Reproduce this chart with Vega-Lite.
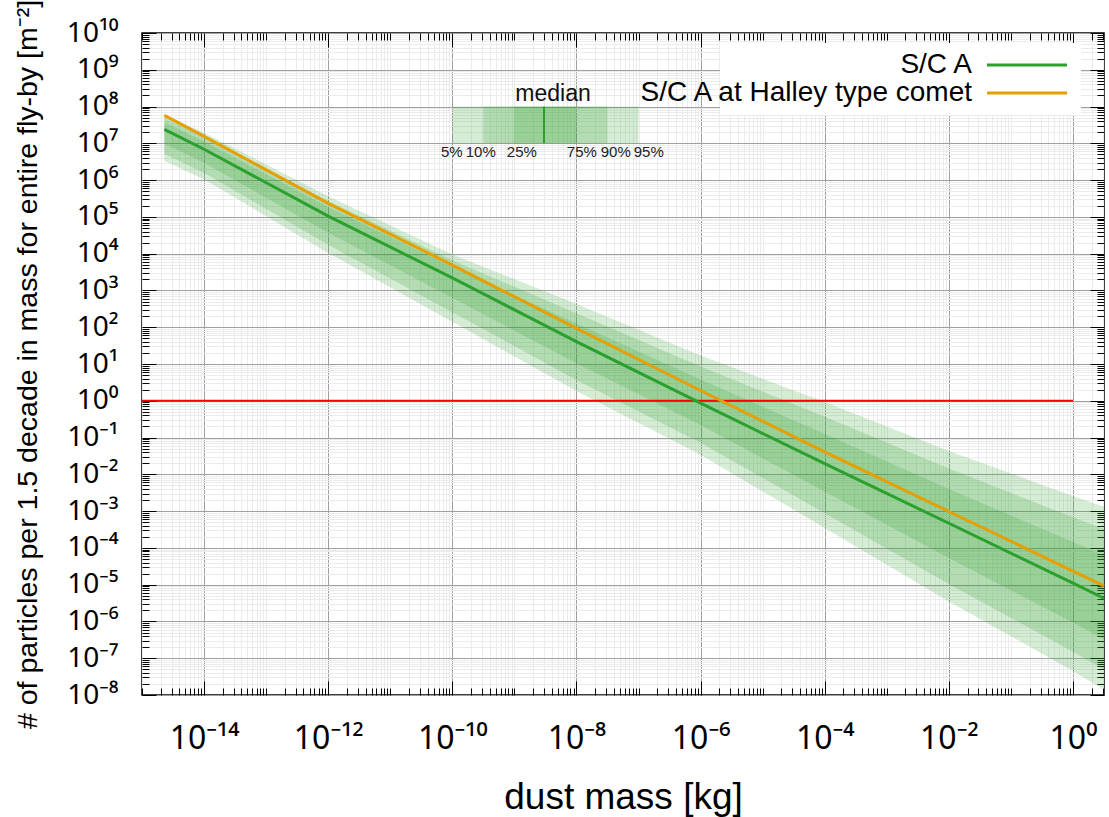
{
  "$schema": "https://vega.github.io/schema/vega-lite/v6.json",
  "width": 962,
  "height": 662,
  "autosize": {"type": "none"},
  "padding": {"left": 142, "top": 33, "right": 5, "bottom": 122},
  "background": "white",
  "datasets": {
    "bands": [
      {"band": "5-95", "mass": 2.29e-15, "lo": 3.31e6, "hi": 6.03e7},
      {"band": "5-95", "mass": 1e-14, "lo": 1.05e6, "hi": 1.95e7},
      {"band": "5-95", "mass": 1e-12, "lo": 1.05e4, "hi": 3.63e5},
      {"band": "5-95", "mass": 1e-10, "lo": 141, "hi": 9550},
      {"band": "5-95", "mass": 1e-8, "lo": 1.85, "hi": 430},
      {"band": "5-95", "mass": 1e-6, "lo": 0.034, "hi": 17.0},
      {"band": "5-95", "mass": 1e-4, "lo": 3.5e-4, "hi": 0.92},
      {"band": "5-95", "mass": 1e-2, "lo": 3.5e-6, "hi": 0.043},
      {"band": "5-95", "mass": 1, "lo": 4.47e-8, "hi": 2.57e-3},
      {"band": "5-95", "mass": 3.162, "lo": 1.38e-8, "hi": 1.32e-3},
      {"band": "10-90", "mass": 2.29e-15, "lo": 5.13e6, "hi": 4.79e7},
      {"band": "10-90", "mass": 1e-14, "lo": 1.585e6, "hi": 1.51e7},
      {"band": "10-90", "mass": 1e-12, "lo": 1.74e4, "hi": 2.69e5},
      {"band": "10-90", "mass": 1e-10, "lo": 257, "hi": 6610},
      {"band": "10-90", "mass": 1e-8, "lo": 3.7, "hi": 240},
      {"band": "10-90", "mass": 1e-6, "lo": 0.072, "hi": 8.5},
      {"band": "10-90", "mass": 1e-4, "lo": 8.8e-4, "hi": 0.37},
      {"band": "10-90", "mass": 1e-2, "lo": 1.04e-5, "hi": 0.0143},
      {"band": "10-90", "mass": 1, "lo": 1.51e-7, "hi": 6.76e-4},
      {"band": "10-90", "mass": 3.162, "lo": 4.90e-8, "hi": 3.24e-4},
      {"band": "25-75", "mass": 2.29e-15, "lo": 9.77e6, "hi": 3.72e7},
      {"band": "25-75", "mass": 1e-14, "lo": 2.95e6, "hi": 1.12e7},
      {"band": "25-75", "mass": 1e-12, "lo": 3.72e4, "hi": 1.86e5},
      {"band": "25-75", "mass": 1e-10, "lo": 631, "hi": 4370},
      {"band": "25-75", "mass": 1e-8, "lo": 10.5, "hi": 126},
      {"band": "25-75", "mass": 1e-6, "lo": 0.22, "hi": 3.8},
      {"band": "25-75", "mass": 1e-4, "lo": 3.4e-3, "hi": 0.125},
      {"band": "25-75", "mass": 1e-2, "lo": 5.3e-5, "hi": 4.0e-3},
      {"band": "25-75", "mass": 1, "lo": 9.33e-7, "hi": 1.45e-4},
      {"band": "25-75", "mass": 3.162, "lo": 3.24e-7, "hi": 6.31e-5}
    ],
    "curves": [
      {"series": "S/C A", "mass": 2.29e-15, "n": 2.40e7},
      {"series": "S/C A", "mass": 1e-14, "n": 6.92e6},
      {"series": "S/C A", "mass": 1e-12, "n": 1.05e5},
      {"series": "S/C A", "mass": 1e-10, "n": 2190},
      {"series": "S/C A", "mass": 1e-8, "n": 40.7},
      {"series": "S/C A", "mass": 1e-6, "n": 0.86},
      {"series": "S/C A", "mass": 1e-4, "n": 0.0195},
      {"series": "S/C A", "mass": 1e-2, "n": 4.68e-4},
      {"series": "S/C A", "mass": 1, "n": 1.10e-5},
      {"series": "S/C A", "mass": 3.162, "n": 4.27e-6},
      {"series": "S/C A at Halley type comet", "mass": 2.29e-15, "n": 5.75e7},
      {"series": "S/C A at Halley type comet", "mass": 1e-14, "n": 1.55e7},
      {"series": "S/C A at Halley type comet", "mass": 1e-12, "n": 2.34e5},
      {"series": "S/C A at Halley type comet", "mass": 1e-10, "n": 4900},
      {"series": "S/C A at Halley type comet", "mass": 1e-8, "n": 93.3},
      {"series": "S/C A at Halley type comet", "mass": 1e-6, "n": 1.9},
      {"series": "S/C A at Halley type comet", "mass": 1e-4, "n": 0.0407},
      {"series": "S/C A at Halley type comet", "mass": 1e-2, "n": 9.77e-4},
      {"series": "S/C A at Halley type comet", "mass": 1, "n": 2.34e-5},
      {"series": "S/C A at Halley type comet", "mass": 3.162, "n": 9.33e-6}
    ],
    "key": [
      {"band": "5-95", "lo": 1e-10, "hi": 1e-7},
      {"band": "10-90", "lo": 3.16e-10, "hi": 3.16e-8},
      {"band": "25-75", "lo": 1e-9, "hi": 1e-8}
    ],
    "keylabels": [
      {"m": 9.8e-11, "label": "5%"},
      {"m": 2.87e-10, "label": "10%"},
      {"m": 1.32e-9, "label": "25%"},
      {"m": 1.22e-8, "label": "75%"},
      {"m": 4.3e-8, "label": "90%"},
      {"m": 1.46e-7, "label": "95%"}
    ]
  },
  "layer": [
    {
      "data": {"name": "bands"},
      "mark": {"type": "area", "color": "#2ca02c", "opacity": 0.2},
      "encoding": {
        "x": {
          "field": "mass", "type": "quantitative",
          "scale": {"type": "log", "domain": [1e-15, 3.162], "nice": false},
          "axis": {
            "orient": "bottom",
            "title": "dust mass [kg]",
            "titleFontSize": 37, "titleX": 481, "titleY": 113, "titleBaseline": "alphabetic", "titleAlign": "center",
            "values": [1e-15,2e-15,3e-15,4e-15,5e-15,6e-15,7e-15,8e-15,9e-15,1e-14,2e-14,3e-14,4e-14,5e-14,6e-14,7e-14,8e-14,9e-14,1e-13,2e-13,3e-13,4e-13,5e-13,6e-13,7e-13,8e-13,9e-13,1e-12,2e-12,3e-12,4e-12,5e-12,6e-12,7e-12,8e-12,9e-12,1e-11,2e-11,3e-11,4e-11,5e-11,6e-11,7e-11,8e-11,9e-11,1e-10,2e-10,3e-10,4e-10,5e-10,6e-10,7e-10,8e-10,9e-10,1e-9,2e-9,3e-9,4e-9,5e-9,6e-9,7e-9,8e-9,9e-9,1e-8,2e-8,3e-8,4e-8,5e-8,6e-8,7e-8,8e-8,9e-8,1e-7,2e-7,3e-7,4e-7,5e-7,6e-7,7e-7,8e-7,9e-7,1e-6,2e-6,3e-6,4e-6,5e-6,6e-6,7e-6,8e-6,9e-6,1e-5,2e-5,3e-5,4e-5,5e-5,6e-5,7e-5,8e-5,9e-5,1e-4,2e-4,3e-4,4e-4,5e-4,6e-4,7e-4,8e-4,9e-4,1e-3,2e-3,3e-3,4e-3,5e-3,6e-3,7e-3,8e-3,9e-3,0.01,0.02,0.03,0.04,0.05,0.06,0.07,0.08,0.09,0.1,0.2,0.3,0.4,0.5,0.6,0.7,0.8,0.9,1,2,3],
            "labelExpr": "(abs(log(datum.value)/LN10-round(log(datum.value)/LN10))<0.01&&round(log(datum.value)/LN10)%2==0)?'10'+replace(replace(replace(replace(replace(replace(replace(replace(replace(replace(replace(toString(round(log(datum.value)/LN10)),'-','⁻'),'0','⁰'),'1','¹'),'2','²'),'3','³'),'4','⁴'),'5','⁵'),'6','⁶'),'7','⁷'),'8','⁸'),'9','⁹'):''",
            "labelFont": "Noto Sans", "labelFontSize": 32, "labelBaseline": "alphabetic", "labelPadding": 67,
            "labelOverlap": false, "labelBound": false, "labelFlush": false,
            "grid": true,
            "gridColor": {"condition": {"test": "abs(log(datum.value)/LN10-round(log(datum.value)/LN10))<0.01&&round(log(datum.value)/LN10)%2==0", "value": "#a0a0a0"}, "value": "#ebebeb"},
            "tickSize": {"condition": {"test": "abs(log(datum.value)/LN10-round(log(datum.value)/LN10))<0.01&&round(log(datum.value)/LN10)%2==0", "value": -14}, "value": -7}
          }
        },
        "y": {
          "field": "hi", "type": "quantitative",
          "scale": {"type": "log", "domain": [1e-8, 1e10], "nice": false},
          "axis": {
            "orient": "left",
            "title": "# of particles per 1.5 decade in mass for entire fly-by [m⁻²]",
            "titleFontSize": 28.5, "titleX": -106, "titleY": 331, "titleBaseline": "alphabetic", "titleAlign": "center", "titleAngle": 270,
            "values": [1e-8,2e-8,3e-8,4e-8,5e-8,6e-8,7e-8,8e-8,9e-8,1e-7,2e-7,3e-7,4e-7,5e-7,6e-7,7e-7,8e-7,9e-7,1e-6,2e-6,3e-6,4e-6,5e-6,6e-6,7e-6,8e-6,9e-6,1e-5,2e-5,3e-5,4e-5,5e-5,6e-5,7e-5,8e-5,9e-5,1e-4,2e-4,3e-4,4e-4,5e-4,6e-4,7e-4,8e-4,9e-4,1e-3,2e-3,3e-3,4e-3,5e-3,6e-3,7e-3,8e-3,9e-3,0.01,0.02,0.03,0.04,0.05,0.06,0.07,0.08,0.09,0.1,0.2,0.3,0.4,0.5,0.6,0.7,0.8,0.9,1,2,3,4,5,6,7,8,9,10,20,30,40,50,60,70,80,90,100,200,300,400,500,600,700,800,900,1e3,2e3,3e3,4e3,5e3,6e3,7e3,8e3,9e3,1e4,2e4,3e4,4e4,5e4,6e4,7e4,8e4,9e4,1e5,2e5,3e5,4e5,5e5,6e5,7e5,8e5,9e5,1e6,2e6,3e6,4e6,5e6,6e6,7e6,8e6,9e6,1e7,2e7,3e7,4e7,5e7,6e7,7e7,8e7,9e7,1e8,2e8,3e8,4e8,5e8,6e8,7e8,8e8,9e8,1e9,2e9,3e9,4e9,5e9,6e9,7e9,8e9,9e9,1e10],
            "labelExpr": "(abs(log(datum.value)/LN10-round(log(datum.value)/LN10))<0.01)?'10'+replace(replace(replace(replace(replace(replace(replace(replace(replace(replace(replace(toString(round(log(datum.value)/LN10)),'-','⁻'),'0','⁰'),'1','¹'),'2','²'),'3','³'),'4','⁴'),'5','⁵'),'6','⁶'),'7','⁷'),'8','⁸'),'9','⁹'):''",
            "labelFont": "Noto Sans", "labelFontSize": 28, "labelAlign": "right", "labelBaseline": "middle", "labelPadding": 38,
            "labelOverlap": false, "labelBound": false, "labelFlush": false,
            "grid": true,
            "gridColor": {"condition": {"test": "abs(log(datum.value)/LN10-round(log(datum.value)/LN10))<0.01", "value": "#a0a0a0"}, "value": "#ebebeb"},
            "tickSize": {"condition": {"test": "abs(log(datum.value)/LN10-round(log(datum.value)/LN10))<0.01", "value": -14}, "value": -7}
          }
        },
        "y2": {"field": "lo"},
        "detail": {"field": "band"}
      }
    },
    {
      "data": {"values": [{"mass": 1e-15, "mass_end": 1, "n": 1}]},
      "mark": {"type": "rule", "color": "#ff0000", "strokeWidth": 2},
      "encoding": {
        "x": {
          "field": "mass", "type": "quantitative",
          "axis": {
            "orient": "top", "title": null, "labels": false, "grid": false,
            "values": [1e-15,2e-15,3e-15,4e-15,5e-15,6e-15,7e-15,8e-15,9e-15,1e-14,2e-14,3e-14,4e-14,5e-14,6e-14,7e-14,8e-14,9e-14,1e-13,2e-13,3e-13,4e-13,5e-13,6e-13,7e-13,8e-13,9e-13,1e-12,2e-12,3e-12,4e-12,5e-12,6e-12,7e-12,8e-12,9e-12,1e-11,2e-11,3e-11,4e-11,5e-11,6e-11,7e-11,8e-11,9e-11,1e-10,2e-10,3e-10,4e-10,5e-10,6e-10,7e-10,8e-10,9e-10,1e-9,2e-9,3e-9,4e-9,5e-9,6e-9,7e-9,8e-9,9e-9,1e-8,2e-8,3e-8,4e-8,5e-8,6e-8,7e-8,8e-8,9e-8,1e-7,2e-7,3e-7,4e-7,5e-7,6e-7,7e-7,8e-7,9e-7,1e-6,2e-6,3e-6,4e-6,5e-6,6e-6,7e-6,8e-6,9e-6,1e-5,2e-5,3e-5,4e-5,5e-5,6e-5,7e-5,8e-5,9e-5,1e-4,2e-4,3e-4,4e-4,5e-4,6e-4,7e-4,8e-4,9e-4,1e-3,2e-3,3e-3,4e-3,5e-3,6e-3,7e-3,8e-3,9e-3,0.01,0.02,0.03,0.04,0.05,0.06,0.07,0.08,0.09,0.1,0.2,0.3,0.4,0.5,0.6,0.7,0.8,0.9,1,2,3],
            "tickSize": {"condition": {"test": "abs(log(datum.value)/LN10-round(log(datum.value)/LN10))<0.01&&round(log(datum.value)/LN10)%2==0", "value": -14}, "value": -7}
          }
        },
        "x2": {"field": "mass_end"},
        "y": {
          "field": "n", "type": "quantitative",
          "axis": {
            "orient": "right", "title": null, "labels": false, "grid": false,
            "values": [1e-8,2e-8,3e-8,4e-8,5e-8,6e-8,7e-8,8e-8,9e-8,1e-7,2e-7,3e-7,4e-7,5e-7,6e-7,7e-7,8e-7,9e-7,1e-6,2e-6,3e-6,4e-6,5e-6,6e-6,7e-6,8e-6,9e-6,1e-5,2e-5,3e-5,4e-5,5e-5,6e-5,7e-5,8e-5,9e-5,1e-4,2e-4,3e-4,4e-4,5e-4,6e-4,7e-4,8e-4,9e-4,1e-3,2e-3,3e-3,4e-3,5e-3,6e-3,7e-3,8e-3,9e-3,0.01,0.02,0.03,0.04,0.05,0.06,0.07,0.08,0.09,0.1,0.2,0.3,0.4,0.5,0.6,0.7,0.8,0.9,1,2,3,4,5,6,7,8,9,10,20,30,40,50,60,70,80,90,100,200,300,400,500,600,700,800,900,1e3,2e3,3e3,4e3,5e3,6e3,7e3,8e3,9e3,1e4,2e4,3e4,4e4,5e4,6e4,7e4,8e4,9e4,1e5,2e5,3e5,4e5,5e5,6e5,7e5,8e5,9e5,1e6,2e6,3e6,4e6,5e6,6e6,7e6,8e6,9e6,1e7,2e7,3e7,4e7,5e7,6e7,7e7,8e7,9e7,1e8,2e8,3e8,4e8,5e8,6e8,7e8,8e8,9e8,1e9,2e9,3e9,4e9,5e9,6e9,7e9,8e9,9e9,1e10],
            "tickSize": {"condition": {"test": "abs(log(datum.value)/LN10-round(log(datum.value)/LN10))<0.01", "value": -14}, "value": -7}
          }
        }
      }
    },
    {
      "data": {"name": "curves"},
      "mark": {"type": "line", "strokeWidth": 3},
      "encoding": {
        "x": {"field": "mass", "type": "quantitative", "axis": null},
        "y": {"field": "n", "type": "quantitative", "axis": null},
        "color": {
          "field": "series", "type": "nominal",
          "scale": {"domain": ["S/C A", "S/C A at Halley type comet"], "range": ["#2ca02c", "#e69f00"]},
          "legend": {
            "title": null, "orient": "none", "legendX": 578, "legendY": 10,
            "fillColor": "white", "padding": 8, "rowPadding": 0,
            "labelFontSize": 28, "labelAlign": "right", "labelOffset": -69, "labelLimit": 0,
            "symbolType": "M-4,0H4", "symbolSize": 400, "symbolStrokeWidth": 3, "symbolOffset": 285
          }
        }
      }
    },
    {
      "data": {"name": "key"},
      "mark": {"type": "rect", "color": "#2ca02c", "opacity": 0.2},
      "encoding": {
        "x": {"field": "lo", "type": "quantitative", "axis": null},
        "x2": {"field": "hi"},
        "y": {"datum": 1e7, "type": "quantitative", "axis": null},
        "y2": {"datum": 1e8}
      }
    },
    {
      "data": {"values": [{"m": 3e-9}]},
      "mark": {"type": "rule", "color": "#2ca02c", "strokeWidth": 2},
      "encoding": {
        "x": {"field": "m", "type": "quantitative", "axis": null},
        "y": {"datum": 1e7, "type": "quantitative", "axis": null},
        "y2": {"datum": 1e8}
      }
    },
    {
      "data": {"values": [{"m": 4.2e-9, "label": "median"}]},
      "mark": {"type": "text", "baseline": "bottom", "dy": -1, "fontSize": 23, "color": "#111"},
      "encoding": {
        "x": {"field": "m", "type": "quantitative", "axis": null},
        "y": {"datum": 1e8, "type": "quantitative", "axis": null},
        "text": {"field": "label"}
      }
    },
    {
      "data": {"name": "keylabels"},
      "mark": {"type": "text", "baseline": "top", "dy": 2, "fontSize": 15, "color": "#222"},
      "encoding": {
        "x": {"field": "m", "type": "quantitative", "axis": null},
        "y": {"datum": 1e7, "type": "quantitative", "axis": null},
        "text": {"field": "label"}
      }
    }
  ],
  "resolve": {"axis": {"x": "independent", "y": "independent"}},
  "config": {
    "font": "Liberation Sans",
    "view": {"stroke": "black", "strokeWidth": 1.5},
    "axis": {
      "domain": false,
      "tickColor": "black",
      "tickWidth": 1,
      "gridWidth": 1,
      "labelColor": "black",
      "titleColor": "black",
      "titleFontWeight": "normal",
      "titleFont": "Liberation Sans"
    },
    "legend": {"labelFont": "Liberation Sans", "labelColor": "black"}
  }
}
